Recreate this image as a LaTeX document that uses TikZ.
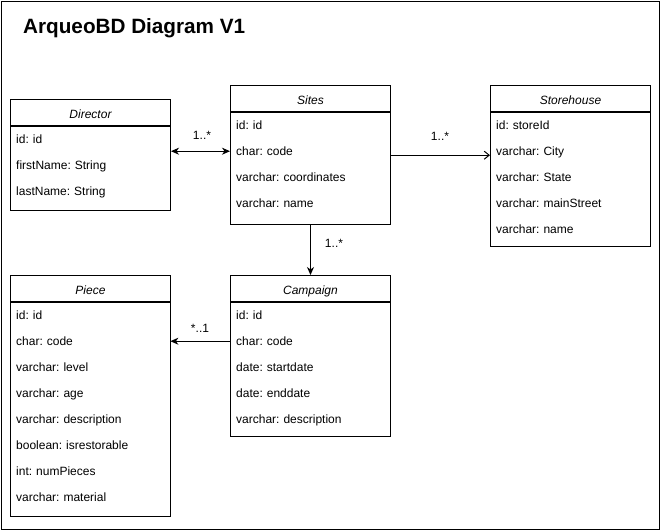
\documentclass[tikz,border=0pt]{standalone}
\usepackage{fontspec}
\setmainfont{Liberation Sans}
\frenchspacing
\usetikzlibrary{arrows.meta,calc}
\tikzset{
  hdr/.style={draw, line width=1pt, minimum width=160pt, minimum height=26pt, inner sep=0pt,
    font=\itshape\fontsize{12}{14}\selectfont, text height=12pt, text depth=0.4pt, anchor=north west},
  bodybox/.style={draw, line width=1pt, minimum width=160pt, inner sep=0pt, anchor=north west},
  row/.style={inner xsep=6pt, inner ysep=0pt, text width=148pt, align=left, minimum height=26pt,
    text height=9.5pt, text depth=0.5pt, font=\frenchspacing\fontsize{12}{14}\selectfont, anchor=north west},
  lbl/.style={font=\fontsize{12}{14}\selectfont, inner sep=0pt, anchor=base},
  titletext/.style={font=\bfseries\fontsize{20.7}{24}\selectfont, inner sep=0pt, anchor=base west},
  conn/.style={line width=1pt},
  filledtip/.style={conn, -{Stealth[length=8pt,width=7pt,inset=2.5pt]}},
  bothtip/.style={conn, {Stealth[length=8pt,width=7pt,inset=2.5pt]}-{Stealth[length=8pt,width=7pt,inset=2.5pt]}},
  opentip/.style={conn, -{Straight Barb[length=5pt,width=8pt]}},
}
\newcommand\umlclass[6]{%
  \node[hdr] (#1) at (#2,#3) {#4};
  \node[bodybox, minimum height=#5pt] (#1-b) at (#1.south west) {};
  \foreach \t [count=\i] in {#6} {\node[row] (#1-\i) at ($(#1-b.north west)+(0,{26*(\i-1)})$) {\t};}
}
\begin{document}
\begin{tikzpicture}[x=1pt,y=-1pt]
\useasboundingbox (0,0) rectangle (661,531);
\draw[line width=1pt] (1,1) rectangle (659.5,529.5);
\node[titletext] (title) at (23,33) {ArqueoBD Diagram V1};

\umlclass{director}{10}{99}{Director}{84}{id: id,firstName: String,lastName: String}
\umlclass{sites}{230}{85}{Sites}{112}{id: id,char: code,varchar: coordinates,varchar: name}
\umlclass{store}{490}{85}{Storehouse}{134}{id: storeId,varchar: City,varchar: State,varchar: mainStreet,varchar: name}
\umlclass{piece}{10}{275}{Piece}{214}{id: id,char: code,varchar: level,varchar: age,varchar: description,boolean: isrestorable,int: numPieces,varchar: material}
\umlclass{camp}{230}{275}{Campaign}{134}{id: id,char: code,date: startdate,date: enddate,varchar: description}

\draw[bothtip] (director.east |- sites-2.west) -- (sites-2.west);
\draw[opentip] ([yshift=-4pt]sites-2.east) -- ([yshift=-4pt]store-2.west);
\draw[filledtip] (sites-b.south) -- (camp.north);
\draw[filledtip] (camp-2.west) -- (piece-2.east);

\node[lbl] (l1) at (202,139) {1..*};
\node[lbl] (l2) at (440,140) {1..*};
\node[lbl] (l3) at (334,247) {1..*};
\node[lbl] (l4) at (200,332) {*..1};
\end{tikzpicture}
\end{document}
